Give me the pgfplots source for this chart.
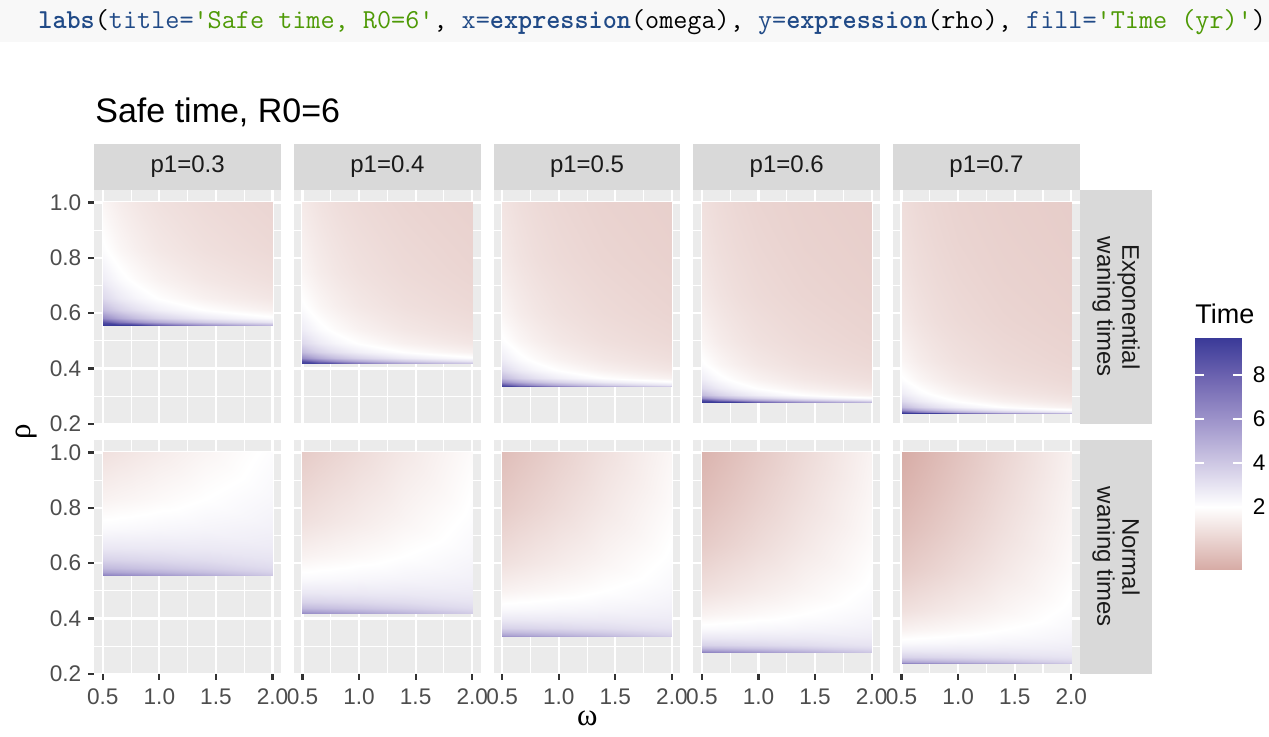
\documentclass[border=0pt]{standalone}
\usepackage{fontspec}
\setmainfont{Liberation Sans}
\newfontfamily\greekfont{Liberation Serif}
\usepackage{graphicx}
\usepackage{pgfplots}
\pgfplotsset{compat=1.18}

\definecolor{panelbg}{HTML}{EBEBEB}
\definecolor{stripbg}{HTML}{D9D9D9}
\definecolor{striptext}{HTML}{1A1A1A}
\definecolor{ticklab}{HTML}{4D4D4D}
\definecolor{tickcol}{HTML}{333333}
\definecolor{codebg}{HTML}{F8F8F8}
\definecolor{codeblue}{HTML}{204A87}
\definecolor{codegreen}{HTML}{4E9A06}

% bold code words kept on the monospace grid
\newlength\cbw
\newcommand\codebf[1]{\settowidth\cbw{#1}\resizebox{\cbw}{\height}{\bfseries #1}}

\pgfplotsset{
  colormap={safetime}{rgb255(0pt)=(215,172,166) rgb255(28.5pt)=(255,255,255)
    rgb255(47.675pt)=(208,202,229) rgb255(66.85pt)=(161,151,204)
    rgb255(86.025pt)=(113,103,178) rgb255(105.2pt)=(58,58,152)},
  panel/.style={
    scale only axis, width=93.35pt, height=116.85pt, anchor=north west,
    xmin=0.425, xmax=2.075, ymin=0.2, ymax=1.045,
    axis background/.style={fill=panelbg},
    axis line style={draw=none},
    xtick={0.5,1,1.5,2}, ytick={0.2,0.4,0.6,0.8,1},
    minor xtick={0.75,1.25,1.75}, minor ytick={0.3,0.5,0.7,0.9},
    grid=both,
    major grid style={white, line width=1.1pt},
    minor grid style={white, line width=0.55pt},
    tick pos=left,
    tick align=outside, major tick length=3pt, minor tick length=0pt,
    tick style={tickcol, line width=1.1pt},
    tick label style={font=\fontsize{11.3}{12}\selectfont, text=ticklab},
    xticklabel style={yshift=-1.2pt},
    xticklabels={}, yticklabels={},
    xtick style={draw=none}, ytick style={draw=none},
    colormap name=safetime, point meta min=-0.85, point meta max=9.67,
  },
  xlab/.style={xticklabels={0.5,1.0,1.5,2.0}, xtick style={draw=tickcol}},
  ylab/.style={yticklabels={0.2,0.4,0.6,0.8,1.0}, ytick style={draw=tickcol}},
  heat/.style={surf, shader=interp, mesh/cols=6, point meta=explicit},
}

\begin{document}
\begin{tikzpicture}
\useasboundingbox (0,0) rectangle (634.5pt,-368pt);

% code line
\fill[codebg] (0,0) rectangle (634.5pt,-21pt);
\node[anchor=base west, inner sep=0pt] at (19pt,-14pt) {\fontsize{13.7}{14}\selectfont\ttfamily
{\color{codeblue}\codebf{labs}}({\color{codeblue}title=}{\color{codegreen}'Safe time, R0=6'}, {\color{codeblue}x=\codebf{expression}}(omega), {\color{codeblue}y=\codebf{expression}}(rho), {\color{codeblue}fill=}{\color{codegreen}'Time (yr)'})};

% title
\node[anchor=base west, inner sep=0pt] at (47.5pt,-61pt) {\fontsize{17}{18}\selectfont Safe time, R0=6};

% facet strips
\foreach \xl/\lab in {47.15/0.3, 147.0/0.4, 246.85/0.5, 346.7/0.6, 446.55/0.7} {
  \fill[stripbg] (\xl pt,-72pt) rectangle ({\xl pt+93.35pt},-95pt);
  \node[text=striptext, font=\fontsize{12}{13}\selectfont] at ({\xl pt+46.675pt},-83.5pt) {p1=\lab};
}
\fill[stripbg] (540pt,-95pt) rectangle (576pt,-211.85pt);
\fill[stripbg] (540pt,-220pt) rectangle (576pt,-336.85pt);
\node[rotate=-90, align=center, text=striptext, font=\fontsize{12}{12.5}\selectfont] at (558pt,-153.4pt) {Exponential\\waning times};
\node[rotate=-90, align=center, text=striptext, font=\fontsize{12}{12.5}\selectfont] at (558pt,-278.4pt) {Normal\\waning times};

% ---------------- exponential waning ----------------
\begin{axis}[panel, ylab, at={(47.15pt,-95pt)}]
\addplot[heat] table[row sep=\\, x=w, y=r, meta=t] {
w r t\\
0.5 0.5556 9.67\\ 0.65 0.5556 9.67\\ 0.8 0.5556 9.38\\ 1 0.5556 7.86\\ 1.4 0.5556 6.02\\ 2 0.5556 4.54\\
0.5 0.5694 8.75\\ 0.65 0.5694 7.11\\ 0.8 0.5694 6.04\\ 1 0.5694 5.06\\ 1.4 0.5694 3.88\\ 2 0.5694 2.92\\
0.5 0.5833 6.28\\ 0.65 0.5833 5.11\\ 0.8 0.5833 4.33\\ 1 0.5833 3.63\\ 1.4 0.5833 2.78\\ 2 0.5833 2.10\\
0.5 0.6111 4.50\\ 0.65 0.6111 3.66\\ 0.8 0.6111 3.11\\ 1 0.6111 2.60\\ 1.4 0.6111 1.99\\ 2 0.6111 1.50\\
0.5 0.6556 3.39\\ 0.65 0.6556 2.76\\ 0.8 0.6556 2.34\\ 1 0.6556 1.96\\ 1.4 0.6556 1.50\\ 2 0.6556 1.13\\
0.5 0.7222 2.66\\ 0.65 0.7222 2.16\\ 0.8 0.7222 1.84\\ 1 0.7222 1.54\\ 1.4 0.7222 1.18\\ 2 0.7222 0.89\\
0.5 0.8333 2.08\\ 0.65 0.8333 1.69\\ 0.8 0.8333 1.44\\ 1 0.8333 1.20\\ 1.4 0.8333 0.92\\ 2 0.8333 0.69\\
0.5 1.0 1.66\\ 0.65 1.0 1.35\\ 0.8 1.0 1.15\\ 1 1.0 0.96\\ 1.4 1.0 0.74\\ 2 1.0 0.55\\
};
\end{axis}

\begin{axis}[panel, at={(147.0pt,-95pt)}]
\addplot[heat] table[row sep=\\, x=w, y=r, meta=t] {
w r t\\
0.5 0.4167 9.67\\ 0.65 0.4167 9.67\\ 0.8 0.4167 9.38\\ 1 0.4167 7.86\\ 1.4 0.4167 6.02\\ 2 0.4167 4.54\\
0.5 0.4271 8.75\\ 0.65 0.4271 7.11\\ 0.8 0.4271 6.04\\ 1 0.4271 5.06\\ 1.4 0.4271 3.88\\ 2 0.4271 2.92\\
0.5 0.4375 6.28\\ 0.65 0.4375 5.11\\ 0.8 0.4375 4.33\\ 1 0.4375 3.63\\ 1.4 0.4375 2.78\\ 2 0.4375 2.10\\
0.5 0.4583 4.50\\ 0.65 0.4583 3.66\\ 0.8 0.4583 3.11\\ 1 0.4583 2.60\\ 1.4 0.4583 1.99\\ 2 0.4583 1.50\\
0.5 0.4917 3.39\\ 0.65 0.4917 2.76\\ 0.8 0.4917 2.34\\ 1 0.4917 1.96\\ 1.4 0.4917 1.50\\ 2 0.4917 1.13\\
0.5 0.5417 2.66\\ 0.65 0.5417 2.16\\ 0.8 0.5417 1.84\\ 1 0.5417 1.54\\ 1.4 0.5417 1.18\\ 2 0.5417 0.89\\
0.5 0.6250 2.08\\ 0.65 0.6250 1.69\\ 0.8 0.6250 1.44\\ 1 0.6250 1.20\\ 1.4 0.6250 0.92\\ 2 0.6250 0.69\\
0.5 0.7500 1.66\\ 0.65 0.7500 1.35\\ 0.8 0.7500 1.15\\ 1 0.7500 0.96\\ 1.4 0.7500 0.74\\ 2 0.7500 0.55\\
0.5 1.0 1.27\\ 0.65 1.0 1.03\\ 0.8 1.0 0.87\\ 1 1.0 0.73\\ 1.4 1.0 0.56\\ 2 1.0 0.42\\
};
\end{axis}

\begin{axis}[panel, at={(246.85pt,-95pt)}]
\addplot[heat] table[row sep=\\, x=w, y=r, meta=t] {
w r t\\
0.5 0.3333 9.67\\ 0.65 0.3333 9.67\\ 0.8 0.3333 9.38\\ 1 0.3333 7.86\\ 1.4 0.3333 6.02\\ 2 0.3333 4.54\\
0.5 0.3417 8.75\\ 0.65 0.3417 7.11\\ 0.8 0.3417 6.04\\ 1 0.3417 5.06\\ 1.4 0.3417 3.88\\ 2 0.3417 2.92\\
0.5 0.3500 6.28\\ 0.65 0.3500 5.11\\ 0.8 0.3500 4.33\\ 1 0.3500 3.63\\ 1.4 0.3500 2.78\\ 2 0.3500 2.10\\
0.5 0.3667 4.50\\ 0.65 0.3667 3.66\\ 0.8 0.3667 3.11\\ 1 0.3667 2.60\\ 1.4 0.3667 1.99\\ 2 0.3667 1.50\\
0.5 0.3933 3.39\\ 0.65 0.3933 2.76\\ 0.8 0.3933 2.34\\ 1 0.3933 1.96\\ 1.4 0.3933 1.50\\ 2 0.3933 1.13\\
0.5 0.4333 2.66\\ 0.65 0.4333 2.16\\ 0.8 0.4333 1.84\\ 1 0.4333 1.54\\ 1.4 0.4333 1.18\\ 2 0.4333 0.89\\
0.5 0.5000 2.08\\ 0.65 0.5000 1.69\\ 0.8 0.5000 1.44\\ 1 0.5000 1.20\\ 1.4 0.5000 0.92\\ 2 0.5000 0.69\\
0.5 0.6000 1.66\\ 0.65 0.6000 1.35\\ 0.8 0.6000 1.15\\ 1 0.6000 0.96\\ 1.4 0.6000 0.74\\ 2 0.6000 0.55\\
0.5 0.8000 1.27\\ 0.65 0.8000 1.03\\ 0.8 0.8000 0.87\\ 1 0.8000 0.73\\ 1.4 0.8000 0.56\\ 2 0.8000 0.42\\
0.5 1.0 1.07\\ 0.65 1.0 0.87\\ 0.8 1.0 0.74\\ 1 1.0 0.62\\ 1.4 1.0 0.47\\ 2 1.0 0.36\\
};
\end{axis}

\begin{axis}[panel, at={(346.7pt,-95pt)}]
\addplot[heat] table[row sep=\\, x=w, y=r, meta=t] {
w r t\\
0.5 0.2778 9.67\\ 0.65 0.2778 9.67\\ 0.8 0.2778 9.38\\ 1 0.2778 7.86\\ 1.4 0.2778 6.02\\ 2 0.2778 4.54\\
0.5 0.2847 8.75\\ 0.65 0.2847 7.11\\ 0.8 0.2847 6.04\\ 1 0.2847 5.06\\ 1.4 0.2847 3.88\\ 2 0.2847 2.92\\
0.5 0.2917 6.28\\ 0.65 0.2917 5.11\\ 0.8 0.2917 4.33\\ 1 0.2917 3.63\\ 1.4 0.2917 2.78\\ 2 0.2917 2.10\\
0.5 0.3056 4.50\\ 0.65 0.3056 3.66\\ 0.8 0.3056 3.11\\ 1 0.3056 2.60\\ 1.4 0.3056 1.99\\ 2 0.3056 1.50\\
0.5 0.3278 3.39\\ 0.65 0.3278 2.76\\ 0.8 0.3278 2.34\\ 1 0.3278 1.96\\ 1.4 0.3278 1.50\\ 2 0.3278 1.13\\
0.5 0.3611 2.66\\ 0.65 0.3611 2.16\\ 0.8 0.3611 1.84\\ 1 0.3611 1.54\\ 1.4 0.3611 1.18\\ 2 0.3611 0.89\\
0.5 0.4167 2.08\\ 0.65 0.4167 1.69\\ 0.8 0.4167 1.44\\ 1 0.4167 1.20\\ 1.4 0.4167 0.92\\ 2 0.4167 0.69\\
0.5 0.5000 1.66\\ 0.65 0.5000 1.35\\ 0.8 0.5000 1.15\\ 1 0.5000 0.96\\ 1.4 0.5000 0.74\\ 2 0.5000 0.55\\
0.5 0.6667 1.27\\ 0.65 0.6667 1.03\\ 0.8 0.6667 0.87\\ 1 0.6667 0.73\\ 1.4 0.6667 0.56\\ 2 0.6667 0.42\\
0.5 0.8333 1.07\\ 0.65 0.8333 0.87\\ 0.8 0.8333 0.74\\ 1 0.8333 0.62\\ 1.4 0.8333 0.47\\ 2 0.8333 0.36\\
0.5 1.0 0.94\\ 0.65 1.0 0.77\\ 0.8 1.0 0.65\\ 1 1.0 0.54\\ 1.4 1.0 0.42\\ 2 1.0 0.31\\
};
\end{axis}

\begin{axis}[panel, at={(446.55pt,-95pt)}]
\addplot[heat] table[row sep=\\, x=w, y=r, meta=t] {
w r t\\
0.5 0.2381 9.67\\ 0.65 0.2381 9.67\\ 0.8 0.2381 9.38\\ 1 0.2381 7.86\\ 1.4 0.2381 6.02\\ 2 0.2381 4.54\\
0.5 0.2440 8.75\\ 0.65 0.2440 7.11\\ 0.8 0.2440 6.04\\ 1 0.2440 5.06\\ 1.4 0.2440 3.88\\ 2 0.2440 2.92\\
0.5 0.2500 6.28\\ 0.65 0.2500 5.11\\ 0.8 0.2500 4.33\\ 1 0.2500 3.63\\ 1.4 0.2500 2.78\\ 2 0.2500 2.10\\
0.5 0.2619 4.50\\ 0.65 0.2619 3.66\\ 0.8 0.2619 3.11\\ 1 0.2619 2.60\\ 1.4 0.2619 1.99\\ 2 0.2619 1.50\\
0.5 0.2810 3.39\\ 0.65 0.2810 2.76\\ 0.8 0.2810 2.34\\ 1 0.2810 1.96\\ 1.4 0.2810 1.50\\ 2 0.2810 1.13\\
0.5 0.3095 2.66\\ 0.65 0.3095 2.16\\ 0.8 0.3095 1.84\\ 1 0.3095 1.54\\ 1.4 0.3095 1.18\\ 2 0.3095 0.89\\
0.5 0.3571 2.08\\ 0.65 0.3571 1.69\\ 0.8 0.3571 1.44\\ 1 0.3571 1.20\\ 1.4 0.3571 0.92\\ 2 0.3571 0.69\\
0.5 0.4286 1.66\\ 0.65 0.4286 1.35\\ 0.8 0.4286 1.15\\ 1 0.4286 0.96\\ 1.4 0.4286 0.74\\ 2 0.4286 0.55\\
0.5 0.5714 1.27\\ 0.65 0.5714 1.03\\ 0.8 0.5714 0.87\\ 1 0.5714 0.73\\ 1.4 0.5714 0.56\\ 2 0.5714 0.42\\
0.5 0.7143 1.07\\ 0.65 0.7143 0.87\\ 0.8 0.7143 0.74\\ 1 0.7143 0.62\\ 1.4 0.7143 0.47\\ 2 0.7143 0.36\\
0.5 0.8571 0.94\\ 0.65 0.8571 0.77\\ 0.8 0.8571 0.65\\ 1 0.8571 0.54\\ 1.4 0.8571 0.42\\ 2 0.8571 0.31\\
0.5 1.0 0.85\\ 0.65 1.0 0.69\\ 0.8 1.0 0.59\\ 1 1.0 0.49\\ 1.4 1.0 0.38\\ 2 1.0 0.28\\
};
\end{axis}

% ---------------- normal waning ----------------
\begin{axis}[panel, xlab, ylab, at={(47.15pt,-220pt)}]
\addplot[heat] table[row sep=\\, x=w, y=r, meta=t] {
w r t\\
0.5 0.5556 6.58\\ 0.65 0.5556 6.32\\ 0.8 0.5556 6.06\\ 1 0.5556 5.72\\ 1.4 0.5556 5.03\\ 2 0.5556 3.99\\
0.5 0.5694 5.40\\ 0.65 0.5694 5.22\\ 0.8 0.5694 5.04\\ 1 0.5694 4.80\\ 1.4 0.5694 4.32\\ 2 0.5694 3.60\\
0.5 0.5833 4.51\\ 0.65 0.5833 4.39\\ 0.8 0.5833 4.26\\ 1 0.5833 4.10\\ 1.4 0.5833 3.78\\ 2 0.5833 3.30\\
0.5 0.6111 3.61\\ 0.65 0.6111 3.55\\ 0.8 0.6111 3.49\\ 1 0.6111 3.41\\ 1.4 0.6111 3.24\\ 2 0.6111 3.00\\
0.5 0.6556 2.86\\ 0.65 0.6556 2.85\\ 0.8 0.6556 2.83\\ 1 0.6556 2.82\\ 1.4 0.6556 2.79\\ 2 0.6556 2.74\\
0.5 0.7222 2.20\\ 0.65 0.7222 2.23\\ 0.8 0.7222 2.26\\ 1 0.7222 2.31\\ 1.4 0.7222 2.39\\ 2 0.7222 2.52\\
0.5 0.8333 1.54\\ 0.65 0.8333 1.62\\ 0.8 0.8333 1.69\\ 1 0.8333 1.79\\ 1.4 0.8333 2.00\\ 2 0.8333 2.30\\
0.5 1.0 0.94\\ 0.65 1.0 1.05\\ 0.8 1.0 1.17\\ 1 1.0 1.32\\ 1.4 1.0 1.63\\ 2 1.0 2.10\\
};
\end{axis}

\begin{axis}[panel, xlab, at={(147.0pt,-220pt)}]
\addplot[heat] table[row sep=\\, x=w, y=r, meta=t] {
w r t\\
0.5 0.4167 6.58\\ 0.65 0.4167 6.32\\ 0.8 0.4167 6.06\\ 1 0.4167 5.72\\ 1.4 0.4167 5.03\\ 2 0.4167 3.99\\
0.5 0.4271 5.40\\ 0.65 0.4271 5.22\\ 0.8 0.4271 5.04\\ 1 0.4271 4.80\\ 1.4 0.4271 4.32\\ 2 0.4271 3.60\\
0.5 0.4375 4.51\\ 0.65 0.4375 4.39\\ 0.8 0.4375 4.26\\ 1 0.4375 4.10\\ 1.4 0.4375 3.78\\ 2 0.4375 3.30\\
0.5 0.4583 3.61\\ 0.65 0.4583 3.55\\ 0.8 0.4583 3.49\\ 1 0.4583 3.41\\ 1.4 0.4583 3.24\\ 2 0.4583 3.00\\
0.5 0.4917 2.86\\ 0.65 0.4917 2.85\\ 0.8 0.4917 2.83\\ 1 0.4917 2.82\\ 1.4 0.4917 2.79\\ 2 0.4917 2.74\\
0.5 0.5417 2.20\\ 0.65 0.5417 2.23\\ 0.8 0.5417 2.26\\ 1 0.5417 2.31\\ 1.4 0.5417 2.39\\ 2 0.5417 2.52\\
0.5 0.6250 1.54\\ 0.65 0.6250 1.62\\ 0.8 0.6250 1.69\\ 1 0.6250 1.79\\ 1.4 0.6250 2.00\\ 2 0.6250 2.30\\
0.5 0.7500 0.94\\ 0.65 0.7500 1.05\\ 0.8 0.7500 1.17\\ 1 0.7500 1.32\\ 1.4 0.7500 1.63\\ 2 0.7500 2.10\\
0.5 1.0 0.22\\ 0.65 1.0 0.38\\ 0.8 1.0 0.54\\ 1 1.0 0.76\\ 1.4 1.0 1.20\\ 2 1.0 1.85\\
};
\end{axis}

\begin{axis}[panel, xlab, at={(246.85pt,-220pt)}]
\addplot[heat] table[row sep=\\, x=w, y=r, meta=t] {
w r t\\
0.5 0.3333 6.58\\ 0.65 0.3333 6.32\\ 0.8 0.3333 6.06\\ 1 0.3333 5.72\\ 1.4 0.3333 5.03\\ 2 0.3333 3.99\\
0.5 0.3417 5.40\\ 0.65 0.3417 5.22\\ 0.8 0.3417 5.04\\ 1 0.3417 4.80\\ 1.4 0.3417 4.32\\ 2 0.3417 3.60\\
0.5 0.3500 4.51\\ 0.65 0.3500 4.39\\ 0.8 0.3500 4.26\\ 1 0.3500 4.10\\ 1.4 0.3500 3.78\\ 2 0.3500 3.30\\
0.5 0.3667 3.61\\ 0.65 0.3667 3.55\\ 0.8 0.3667 3.49\\ 1 0.3667 3.41\\ 1.4 0.3667 3.24\\ 2 0.3667 3.00\\
0.5 0.3933 2.86\\ 0.65 0.3933 2.85\\ 0.8 0.3933 2.83\\ 1 0.3933 2.82\\ 1.4 0.3933 2.79\\ 2 0.3933 2.74\\
0.5 0.4333 2.20\\ 0.65 0.4333 2.23\\ 0.8 0.4333 2.26\\ 1 0.4333 2.31\\ 1.4 0.4333 2.39\\ 2 0.4333 2.52\\
0.5 0.5000 1.54\\ 0.65 0.5000 1.62\\ 0.8 0.5000 1.69\\ 1 0.5000 1.79\\ 1.4 0.5000 2.00\\ 2 0.5000 2.30\\
0.5 0.6000 0.94\\ 0.65 0.6000 1.05\\ 0.8 0.6000 1.17\\ 1 0.6000 1.32\\ 1.4 0.6000 1.63\\ 2 0.6000 2.10\\
0.5 0.8000 0.22\\ 0.65 0.8000 0.38\\ 0.8 0.8000 0.54\\ 1 0.8000 0.76\\ 1.4 0.8000 1.20\\ 2 0.8000 1.85\\
0.5 1.0 -0.24\\ 0.65 1.0 -0.05\\ 0.8 1.0 0.14\\ 1 1.0 0.40\\ 1.4 1.0 0.92\\ 2 1.0 1.70\\
};
\end{axis}

\begin{axis}[panel, xlab, at={(346.7pt,-220pt)}]
\addplot[heat] table[row sep=\\, x=w, y=r, meta=t] {
w r t\\
0.5 0.2778 6.58\\ 0.65 0.2778 6.32\\ 0.8 0.2778 6.06\\ 1 0.2778 5.72\\ 1.4 0.2778 5.03\\ 2 0.2778 3.99\\
0.5 0.2847 5.40\\ 0.65 0.2847 5.22\\ 0.8 0.2847 5.04\\ 1 0.2847 4.80\\ 1.4 0.2847 4.32\\ 2 0.2847 3.60\\
0.5 0.2917 4.51\\ 0.65 0.2917 4.39\\ 0.8 0.2917 4.26\\ 1 0.2917 4.10\\ 1.4 0.2917 3.78\\ 2 0.2917 3.30\\
0.5 0.3056 3.61\\ 0.65 0.3056 3.55\\ 0.8 0.3056 3.49\\ 1 0.3056 3.41\\ 1.4 0.3056 3.24\\ 2 0.3056 3.00\\
0.5 0.3278 2.86\\ 0.65 0.3278 2.85\\ 0.8 0.3278 2.83\\ 1 0.3278 2.82\\ 1.4 0.3278 2.79\\ 2 0.3278 2.74\\
0.5 0.3611 2.20\\ 0.65 0.3611 2.23\\ 0.8 0.3611 2.26\\ 1 0.3611 2.31\\ 1.4 0.3611 2.39\\ 2 0.3611 2.52\\
0.5 0.4167 1.54\\ 0.65 0.4167 1.62\\ 0.8 0.4167 1.69\\ 1 0.4167 1.79\\ 1.4 0.4167 2.00\\ 2 0.4167 2.30\\
0.5 0.5000 0.94\\ 0.65 0.5000 1.05\\ 0.8 0.5000 1.17\\ 1 0.5000 1.32\\ 1.4 0.5000 1.63\\ 2 0.5000 2.10\\
0.5 0.6667 0.22\\ 0.65 0.6667 0.38\\ 0.8 0.6667 0.54\\ 1 0.6667 0.76\\ 1.4 0.6667 1.20\\ 2 0.6667 1.85\\
0.5 0.8333 -0.24\\ 0.65 0.8333 -0.05\\ 0.8 0.8333 0.14\\ 1 0.8333 0.40\\ 1.4 0.8333 0.92\\ 2 0.8333 1.70\\
0.5 1.0 -0.58\\ 0.65 1.0 -0.37\\ 0.8 1.0 -0.15\\ 1 1.0 0.14\\ 1.4 1.0 0.72\\ 2 1.0 1.59\\
};
\end{axis}

\begin{axis}[panel, xlab, at={(446.55pt,-220pt)}]
\addplot[heat] table[row sep=\\, x=w, y=r, meta=t] {
w r t\\
0.5 0.2381 6.58\\ 0.65 0.2381 6.32\\ 0.8 0.2381 6.06\\ 1 0.2381 5.72\\ 1.4 0.2381 5.03\\ 2 0.2381 3.99\\
0.5 0.2440 5.40\\ 0.65 0.2440 5.22\\ 0.8 0.2440 5.04\\ 1 0.2440 4.80\\ 1.4 0.2440 4.32\\ 2 0.2440 3.60\\
0.5 0.2500 4.51\\ 0.65 0.2500 4.39\\ 0.8 0.2500 4.26\\ 1 0.2500 4.10\\ 1.4 0.2500 3.78\\ 2 0.2500 3.30\\
0.5 0.2619 3.61\\ 0.65 0.2619 3.55\\ 0.8 0.2619 3.49\\ 1 0.2619 3.41\\ 1.4 0.2619 3.24\\ 2 0.2619 3.00\\
0.5 0.2810 2.86\\ 0.65 0.2810 2.85\\ 0.8 0.2810 2.83\\ 1 0.2810 2.82\\ 1.4 0.2810 2.79\\ 2 0.2810 2.74\\
0.5 0.3095 2.20\\ 0.65 0.3095 2.23\\ 0.8 0.3095 2.26\\ 1 0.3095 2.31\\ 1.4 0.3095 2.39\\ 2 0.3095 2.52\\
0.5 0.3571 1.54\\ 0.65 0.3571 1.62\\ 0.8 0.3571 1.69\\ 1 0.3571 1.79\\ 1.4 0.3571 2.00\\ 2 0.3571 2.30\\
0.5 0.4286 0.94\\ 0.65 0.4286 1.05\\ 0.8 0.4286 1.17\\ 1 0.4286 1.32\\ 1.4 0.4286 1.63\\ 2 0.4286 2.10\\
0.5 0.5714 0.22\\ 0.65 0.5714 0.38\\ 0.8 0.5714 0.54\\ 1 0.5714 0.76\\ 1.4 0.5714 1.20\\ 2 0.5714 1.85\\
0.5 0.7143 -0.24\\ 0.65 0.7143 -0.05\\ 0.8 0.7143 0.14\\ 1 0.7143 0.40\\ 1.4 0.7143 0.92\\ 2 0.7143 1.70\\
0.5 0.8571 -0.58\\ 0.65 0.8571 -0.37\\ 0.8 0.8571 -0.15\\ 1 0.8571 0.14\\ 1.4 0.8571 0.72\\ 2 0.8571 1.59\\
0.5 1.0 -0.85\\ 0.65 1.0 -0.62\\ 0.8 1.0 -0.38\\ 1 1.0 -0.07\\ 1.4 1.0 0.56\\ 2 1.0 1.50\\
};
\end{axis}

% colour bar
\node[anchor=base west, inner sep=0pt] at (597.5pt,-161.5pt) {\fontsize{13.5}{14}\selectfont Time};
\begin{axis}[scale only axis, width=23.35pt, height=115.5pt, anchor=north west, at={(597.5pt,-169.15pt)},
  xmin=0, xmax=1, ymin=-0.85, ymax=9.67, axis line style={draw=none}, axis on top,
  xtick=\empty, ytick={2,4,6,8}, yticklabels={2,4,6,8},
  ytick pos=both, yticklabel pos=right, tick align=inside, major tick length=4.5pt,
  ytick style={white, line width=0.9pt},
  yticklabel style={font=\fontsize{11.3}{12}\selectfont, text=black, xshift=2pt},
  colormap name=safetime, point meta min=-0.85, point meta max=9.67]
\addplot[surf, shader=interp, mesh/cols=2, point meta=explicit] table[row sep=\\, x=x, y=y, meta=t] {
x y t\\
0 -0.85 -0.85\\ 1 -0.85 -0.85\\
0 2 2\\ 1 2 2\\
0 3.9175 3.9175\\ 1 3.9175 3.9175\\
0 5.835 5.835\\ 1 5.835 5.835\\
0 7.7525 7.7525\\ 1 7.7525 7.7525\\
0 9.67 9.67\\ 1 9.67 9.67\\
};
\end{axis}

% axis titles
\node[anchor=base] at (293.6pt,-362.5pt) {\fontsize{15.5}{16}\greekfont ω};
\node[rotate=90, anchor=base] at (15.5pt,-216pt) {\fontsize{15.5}{16}\greekfont ρ};
\end{tikzpicture}
\end{document}
